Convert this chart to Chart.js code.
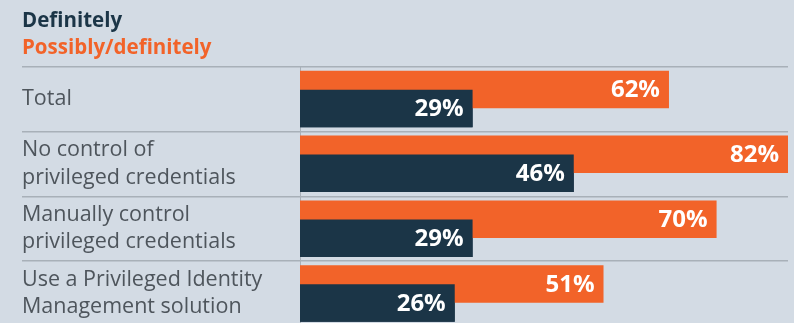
<!DOCTYPE html>
<html>
<head>
<meta charset="utf-8">
<script src="https://cdn.jsdelivr.net/npm/chart.js@4.4.1/dist/chart.umd.min.js"></script>
<style>
  html, body { margin: 0; padding: 0; background: #d3dbe4; overflow: hidden; }
  /* the last row runs a few pixels past the bottom edge, as in the source */
  #wrap { width: 794px; height: 326px; position: relative; }
</style>
</head>
<body>
<div id="wrap"><canvas id="bar-chart_pim"></canvas></div>
<script>
/*==================== Privileged credentials chart ====================*/
const categories = [
    "Total",
    ["No control of", "privileged credentials"],
    ["Manually control", "privileged credentials"],
    ["Use a Privileged Identity", "Management solution"]
];
const possiblyDefinitely = [62, 82, 70, 51];
const definitely = [29, 46, 29, 26];
const seriesNames = ["Possibly/definitely", "Definitely"];

const ORANGE = "#f26329";
const NAVY = "#1b3547";
const GRID = "#a8b0b8";

// dark bars sit below the orange ones but must be painted over them,
// then the value labels go on top of everything
const barLabels = {
    id: "barLabels",
    afterDatasetsDraw(chart) {
        chart.getDatasetMeta(1).controller.draw();
        const ctx = chart.ctx;
        ctx.save();
        ctx.font = "bold 24px 'Open Sans'";
        ctx.fillStyle = "#ffffff";
        ctx.textAlign = "right";
        ctx.textBaseline = "middle";
        chart.data.datasets.forEach((ds, i) => {
            chart.getDatasetMeta(i).data.forEach((bar, j) => {
                ctx.fillText(ds.data[j] + "%", bar.x - 9, bar.y + 1);
            });
        });
        ctx.restore();
    }
};

const pim_chart = new Chart(document.getElementById("bar-chart_pim"), {
    type: 'bar',
    data: {
        labels: categories,
        datasets: [{
            label: seriesNames[0],
            data: possiblyDefinitely,
            backgroundColor: ORANGE
        }, {
            label: seriesNames[1],
            data: definitely,
            backgroundColor: NAVY
        }]
    },
    options: {
        indexAxis: 'y',
        responsive: true,
        maintainAspectRatio: false,
        animation: false,
        categoryPercentage: 0.587,
        barPercentage: 1.97,
        layout: {
            padding: { left: 22, right: 6, top: 0, bottom: 0 }
        },
        scales: {
            x: {
                display: false,
                min: 0,
                max: 82
            },
            y: {
                grid: {
                    color: GRID,
                    lineWidth: 1.5,
                    offset: true,
                    tickLength: 278
                },
                border: { color: GRID, width: 1 },
                ticks: {
                    crossAlign: 'far',
                    padding: 0,
                    color: "#4e555c",
                    font: { family: "'Open Sans'", size: 21.5, lineHeight: 1.27 }
                },
                afterFit(scale) {
                    scale.width = 278;
                    // labels stay inside their rows, no extra room needed
                    scale.paddingTop = 0;
                    scale.paddingBottom = 0;
                }
            }
        },
        plugins: {
            legend: { display: false },
            tooltip: { enabled: false },
            title: {
                display: true,
                text: seriesNames[1],
                align: 'start',
                color: NAVY,
                font: { family: "'Open Sans'", size: 20.5, weight: 'bold', lineHeight: 1.2 },
                padding: { top: 9, bottom: 0 }
            },
            subtitle: {
                display: true,
                text: seriesNames[0],
                align: 'start',
                color: ORANGE,
                font: { family: "'Open Sans'", size: 20.5, weight: 'bold', lineHeight: 1.2 },
                padding: { top: 2.7, bottom: 5.6 }
            }
        }
    },
    plugins: [barLabels]
});
</script>
</body>
</html>
